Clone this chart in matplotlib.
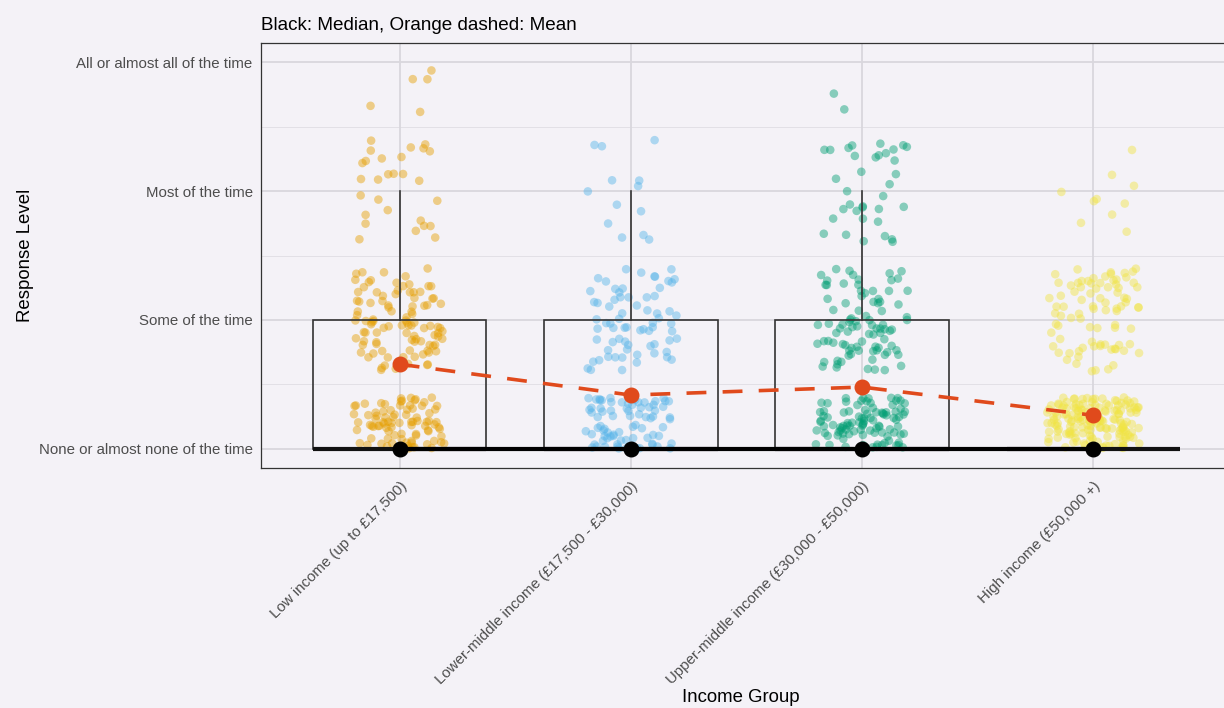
import numpy as np
import matplotlib
matplotlib.use("Agg")
import matplotlib.pyplot as plt

# ---- data ----
groups = ["Low income (up to £17,500)",
          "Lower-middle income (£17,500 - £30,000)",
          "Upper-middle income (£30,000 - £50,000)",
          "High income (£50,000 +)"]
levels = ["None or almost none of the time", "Some of the time",
          "Most of the time", "All or almost all of the time"]
level_values = [1, 2, 3, 4]
# respondent counts per level (None, Some, Most, All) for each group
counts_low = [160, 100, 28, 14]
counts_lower_mid = [160, 70, 13, 2]
counts_upper_mid = [220, 90, 35, 2]
counts_high = [310, 85, 10, 0]
group_colors = ["#E69F00", "#56B4E9", "#009E73", "#F0E442"]

all_counts = [counts_low, counts_lower_mid, counts_upper_mid, counts_high]
raw = [np.repeat(level_values, c).astype(float) for c in all_counts]
means = [r.mean() for r in raw]
medians = [np.median(r) for r in raw]

BG = "#f4f2f7"
plt.rcParams['font.family'] = ['Liberation Sans', 'DejaVu Sans']

fig = plt.figure(figsize=(12.24, 7.08), dpi=100, facecolor=BG)
ax = fig.add_axes([261/1224, (708-468)/708, (1232-261)/1224, (468-43)/708])
ax.set_facecolor(BG)

pos = np.arange(len(groups))

# grid
for y in level_values:
    ax.axhline(y, color="#d9d7dd", lw=1.3, zorder=0)
for y in [1.5, 2.5, 3.5]:
    ax.axhline(y, color="#e2e0e6", lw=0.7, zorder=0)
for x in pos:
    ax.axvline(x, color="#d9d7dd", lw=1.3, zorder=0)

# jittered points (jitter is display-only, seeded)
rng = np.random.default_rng(7)
for i, r in enumerate(raw):
    jx = i + rng.uniform(-0.2, 0.2, len(r))
    jy = r + rng.uniform(-0.4, 0.4, len(r))
    keep = (jy >= 1) & (jy <= 4)
    ax.scatter(jx[keep], jy[keep], s=38, color=group_colors[i], alpha=0.45,
               edgecolors="none", zorder=2)

# boxplots
ax.boxplot(raw, positions=pos, widths=0.75, whis=1.5, showfliers=False,
           showcaps=False, patch_artist=True,
           boxprops=dict(facecolor="none", edgecolor="#333333", linewidth=1.2),
           whiskerprops=dict(color="#333333", linewidth=1.2),
           medianprops=dict(color="#111111", linewidth=3),
           zorder=3)

# median line + points
ax.plot(pos, medians, color="black", lw=3, zorder=4)
ax.scatter(pos, medians, s=110, color="black", zorder=5)
# mean dashed line + points
ax.plot(pos, means, color="#e04a1c", lw=2.6, ls=(0, (5.5, 4.5)), zorder=4)
ax.scatter(pos, means, s=110, color="#e04a1c", zorder=5)

ax.set_xlim(-0.6, 3.6)
ax.set_ylim(0.85, 4.15)
ax.set_yticks(level_values)
ax.set_yticklabels(levels, fontsize=10.8, color="#4d4d4d")
ax.set_xticks(pos)
ax.set_xticklabels(groups, fontsize=10.8, color="#4d4d4d", rotation=45,
                   ha="right", va="top", rotation_mode="anchor")
ax.tick_params(axis="both", length=0, pad=6)
ax.tick_params(axis="x", pad=8)
for s in ax.spines.values():
    s.set_color("#333333")
    s.set_linewidth(0.9)

ax.set_ylabel("Response Level", fontsize=13.4, va="center")
ax.set_xlabel("Income Group", fontsize=13.4, va="center")
ax.xaxis.set_label_coords((741-261)/(1232-261), -(698-468)/(468-43))
ax.yaxis.set_label_coords(-(261-26)/(1232-261), 0.5)
ax.set_title("Black: Median, Orange dashed: Mean", loc="left", fontsize=13.6,
             pad=9)

fig.savefig("out.png", dpi=100, facecolor=BG)
